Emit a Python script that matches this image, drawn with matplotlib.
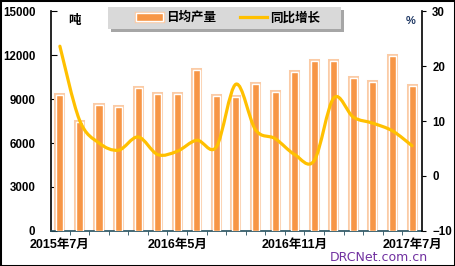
import numpy as np
import matplotlib
matplotlib.use('Agg')
import matplotlib.pyplot as plt
from matplotlib.path import Path
from matplotlib.patches import PathPatch, Rectangle, Patch
from matplotlib.lines import Line2D
from matplotlib.legend_handler import HandlerTuple

# months shown on the category axis (only every 6th label is printed)
months = ['2015年7月', '2015年8月', '2015年9月', '2015年10月', '2015年11月', '2015年12月',
          '2016年5月', '2016年6月', '2016年7月', '2016年8月', '2016年9月', '2016年10月',
          '2016年11月', '2016年12月', '2017年3月', '2017年4月', '2017年5月', '2017年6月',
          '2017年7月']
# daily output, tons
daily_output = [9300, 7430, 8590, 8450, 9750, 9340, 9340, 10975, 9200, 9140,
                10020, 9480, 10840, 11590, 11590, 10430, 10160, 11930, 9890]
# year on year growth, %
yoy_growth = [23.6, 10.2, 6.0, 4.7, 7.1, 3.9, 4.5, 6.5, 5.3, 16.7,
              8.4, 6.8, 3.9, 2.8, 14.2, 10.7, 9.6, 8.2, 5.5]

left_ticks = [0, 3000, 6000, 9000, 12000, 15000]
right_ticks = [-10, 0, 10, 20, 30]

ORANGE = '#F79646'
PEACH = '#FBCBA6'
GOLD = '#FFC000'
AXIS_TEAL = '#244F5E'

plt.rcParams['font.family'] = ['Liberation Sans', 'Noto Sans CJK SC']
plt.rcParams['font.weight'] = 'bold'


# smooth curve through the points (like excel "smoothed line"), drawn as bezier path
def smooth_path(x, y):
    verts = [(x[0], y[0])]
    codes = [Path.MOVETO]
    n = len(x)
    for i in range(n - 1):
        xa, ya = (x[i - 1], y[i - 1]) if i > 0 else (x[i], y[i])
        xb, yb = (x[i + 2], y[i + 2]) if i + 2 < n else (x[i + 1], y[i + 1])
        c1 = (x[i] + (x[i + 1] - xa) / 6, y[i] + (y[i + 1] - ya) / 6)
        c2 = (x[i + 1] - (xb - x[i]) / 6, y[i + 1] - (yb - y[i]) / 6)
        verts += [c1, c2, (x[i + 1], y[i + 1])]
        codes += [Path.CURVE4] * 3
    return Path(verts, codes)


W, H = 455, 266
fig = plt.figure(figsize=(W / 100, H / 100), dpi=100)
ax = fig.add_axes([0.1114, 0.1316, 0.817, 0.827])
x = np.arange(len(months))

# bars: peach rim, white gap, orange body
ax.bar(x, daily_output, width=0.36, color=PEACH, edgecolor=PEACH, linewidth=2.9, zorder=2)
ax.bar(x, daily_output, width=0.36, color=ORANGE, edgecolor='white', linewidth=1.0, zorder=3)

ax.set_xlim(-0.47, len(months) - 0.47)
ax.set_ylim(0, 15000)
ax.set_yticks(left_ticks)
ax.set_xticks(x[::6])
ax.set_xticklabels(months[::6])
ax.set_xticks(x[1:] - 0.5, minor=True)
ax.tick_params(axis='x', which='major', length=0, pad=6, labelsize=9)
ax.tick_params(axis='x', which='minor', length=3, direction='out', color=AXIS_TEAL)
ax.tick_params(axis='y', direction='in', length=4, pad=11, labelsize=8.3)
ax.spines['top'].set_visible(False)
ax.spines['right'].set_visible(False)
ax.spines['bottom'].set_color(AXIS_TEAL)
ax.spines['bottom'].set_linewidth(1.2)
ax.spines['left'].set_linewidth(1.2)

ax2 = ax.twinx()
ax2.set_ylim(-10, 30)
ax2.set_yticks(right_ticks)
ax2.tick_params(axis='y', direction='out', length=3, pad=4, labelsize=8.3)
ax2.spines['top'].set_visible(False)
ax2.spines['left'].set_visible(False)
ax2.spines['bottom'].set_visible(False)
ax2.spines['right'].set_linewidth(1.2)
ax2.add_patch(PathPatch(smooth_path(x, yoy_growth), fill=False, edgecolor=GOLD,
                        linewidth=2.3, capstyle='round', joinstyle='round', zorder=4))

# unit labels
fig.text(74 / W, 1 - 21 / H, '吨', ha='center', va='center', fontsize=9)
fig.text(411 / W, 1 - 21 / H, '%', ha='center', va='center', fontsize=8, color='#1F3864')

# legend box with a soft shadow, drawn by hand
fig.patches.append(Rectangle((111 / W, 1 - 32 / H), 233 / W, 22 / H, transform=fig.transFigure,
                             facecolor='#A6A6A6', edgecolor='none', zorder=5))
fig.patches.append(Rectangle((108 / W, 1 - 29 / H), 233 / W, 22 / H, transform=fig.transFigure,
                             facecolor='#D9D9D9', edgecolor='none', zorder=6))
bar_handle = (Patch(facecolor=PEACH, edgecolor=PEACH, linewidth=2.5),
              Patch(facecolor=ORANGE, edgecolor='white', linewidth=1.0))
line_handle = Line2D([], [], color=GOLD, linewidth=2.3)
leg = fig.legend([bar_handle, line_handle], ['日均产量', '同比增长'],
                 handler_map={tuple: HandlerTuple(ndivide=1)},
                 loc='center', bbox_to_anchor=(228 / W, 1 - 18 / H),
                 ncol=2, fontsize=9, frameon=False,
                 handlelength=2.2, handleheight=0.55, handletextpad=0.25, columnspacing=1.9,
                 borderpad=0.0)
leg.set_zorder(7)

# watermark
fig.text(330 / W, 1 - 261 / H, 'DRCNet.com.cn', ha='left', va='baseline',
         fontsize=9, color='#7030A0', family='DejaVu Sans', fontweight='normal')

# outer frame
fig.patches.append(Rectangle((0, 0), 1, 1, transform=fig.transFigure, fill=False,
                             edgecolor='black', linewidth=2.2))

fig.savefig('out.png', dpi=100)
